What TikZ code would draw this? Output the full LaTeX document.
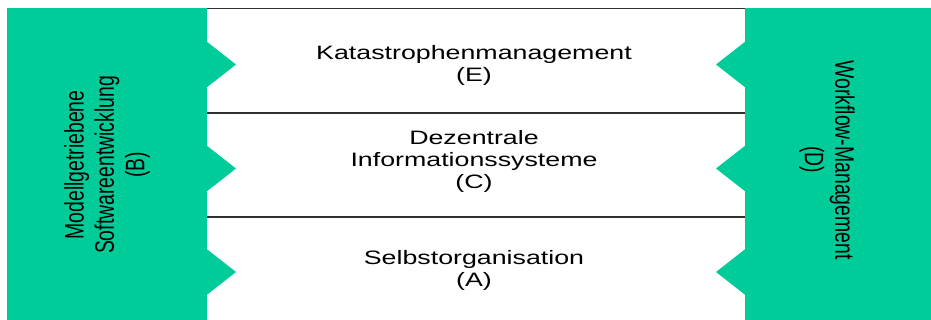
\documentclass[tikz,border=0pt]{standalone}
\usepackage{fontspec}
\setmainfont{Liberation Sans}
\usepackage{xcolor}
\usepackage{tikz}
\definecolor{mint}{HTML}{00CC99}
\definecolor{rule}{HTML}{303030}
\tikzset{
  block/.style={fill=mint, draw=none},
  sep/.style={draw=rule, line width=1.3pt},
  lab/.style={align=center, text=black, font=\fontsize{19.4}{22}\selectfont, inner sep=0pt, xscale=1.38}
}

\begin{document}
\begin{tikzpicture}[x=1pt, y=-1pt]
  \useasboundingbox (0,0) rectangle (931,320);

  % separating lines of the middle bands
  \foreach \ly in {8.5,113,217}
    \draw[sep] (200,\ly) -- (750,\ly);

  % left and right blocks with their teeth
  \fill[block] (7,8) rectangle (207,320);
  \fill[block] (745,8) rectangle (931,320);
  \foreach \ty in {64.5,168.5,272} {
    \fill[block] (206,\ty-23.5) -- (236,\ty) -- (206,\ty+23.5) -- cycle;
    \fill[block] (746,\ty-23.5) -- (716,\ty) -- (746,\ty+23.5) -- cycle;
  }

  % band labels
  \node[lab] (kat)    at (474,65.5)  {Katastrophenmanagement\\(E)};
  \node[lab] (dez)    at (474,161.5) {Dezentrale\\Informationssysteme\\(C)};
  \node[lab] (selbst) at (474,270.5) {Selbstorganisation\\(A)};

  % side labels
  \node[lab, rotate=90]  (modell)   at (107,165) {Modellgetriebene\\Softwareentwicklung\\(B)};
  \node[lab, rotate=-90] (workflow) at (827,160) {Workflow-Management\\(D)};
\end{tikzpicture}
\end{document}
